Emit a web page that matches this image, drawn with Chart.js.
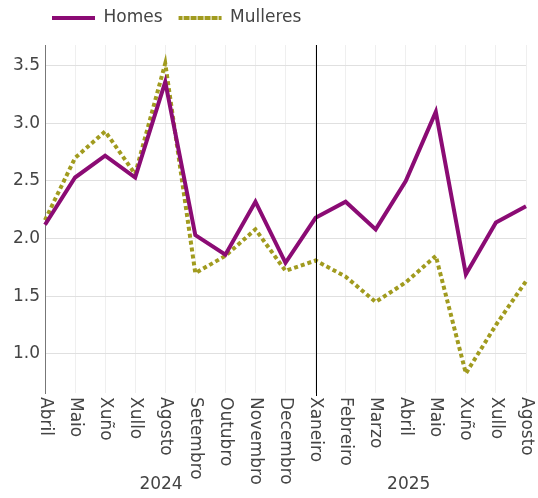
<!DOCTYPE html>
<html><head><meta charset="utf-8">
<script src="https://cdn.jsdelivr.net/npm/chart.js@4"></script>
<style>html,body{margin:0;padding:0;background:#fff}</style>
</head><body>
<canvas id="c" width="538" height="498"></canvas>
<script>
const months = ['Abril','Maio','Xuño','Xullo','Agosto','Setembro','Outubro','Novembro','Decembro','Xaneiro','Febreiro','Marzo','Abril','Maio','Xuño','Xullo','Agosto'];
const years = ['2024','2025'];
const homes = [2.12, 2.53, 2.72, 2.53, 3.36, 2.03, 1.86, 2.32, 1.79, 2.18, 2.32, 2.08, 2.50, 3.10, 1.69, 2.14, 2.28];
const mulleres = [2.16, 2.70, 2.93, 2.56, 3.52, 1.70, 1.85, 2.08, 1.72, 1.81, 1.67, 1.45, 1.62, 1.85, 0.83, 1.25, 1.63];
const yTicks = [1.0, 1.5, 2.0, 2.5, 3.0, 3.5];

const FONT = '"DejaVu Sans", Verdana, sans-serif';
const TXT = '#444';

const overlay = {
  id: 'overlay',
  afterLayout(chart) {
    const lg = chart.legend;
    if (lg) { lg.left = 36; lg.top = -6.5; }
  },
  afterDatasetsDraw(chart) {
    const {ctx, chartArea, scales} = chart;
    const x = Math.round(scales.x.getPixelForValue(9)) + 0.5;
    ctx.save();
    ctx.strokeStyle = '#000';
    ctx.lineWidth = 1;
    ctx.beginPath();
    ctx.moveTo(x, chartArea.top);
    ctx.lineTo(x, chartArea.bottom + 3);
    ctx.stroke();
    ctx.restore();
  },
  afterDraw(chart) {
    const {ctx, chartArea, scales} = chart;
    ctx.save();
    ctx.font = '17px ' + FONT;
    ctx.fillStyle = TXT;
    months.forEach((m, i) => {
      const x = scales.x.getPixelForValue(i);
      ctx.save();
      ctx.translate(x, chartArea.bottom + 4);
      ctx.rotate(Math.PI / 2);
      ctx.textAlign = 'left';
      ctx.textBaseline = 'middle';
      ctx.fillText(m, 0, 0);
      ctx.restore();
    });
    ctx.textAlign = 'center';
    ctx.textBaseline = 'middle';
    const yearPos = [3.86, 12.1];
    years.forEach((y, i) => {
      ctx.fillText(y, scales.x.getPixelForValue(yearPos[i]), 485);
    });
    ctx.restore();
  }
};

new Chart(document.getElementById('c'), {
  type: 'line',
  data: {
    labels: months,
    datasets: [
      { label: 'Homes', data: homes, borderColor: '#8b0b74', backgroundColor: '#8b0b74',
        borderWidth: 4, pointRadius: 0, tension: 0, fill: false },
      { label: 'Mulleres', data: mulleres, borderColor: '#a19b1f', backgroundColor: '#a19b1f',
        borderWidth: 4, borderDash: [4, 3], pointRadius: 0, tension: 0, fill: false }
    ]
  },
  options: {
    responsive: false,
    animation: false,
    devicePixelRatio: 1,
    layout: { padding: { top: 2, right: 12, bottom: 0, left: 0 } },
    plugins: {
      tooltip: { enabled: false },
      legend: {
        position: 'top',
        align: 'start',
        labels: {
          boxWidth: 43,
          boxHeight: 0,
          padding: 16,
          color: TXT,
          font: { family: FONT, size: 17 }
        }
      }
    },
    scales: {
      x: {
        type: 'category',
        offset: false,
        ticks: { display: false },
        grid: { color: '#efefef', drawTicks: false },
        border: { display: false },
        afterFit(s) { s.height = 105; }
      },
      y: {
        min: 0.66, max: 3.68,
        afterBuildTicks(s) { s.ticks = yTicks.map(v => ({ value: v })); },
        afterFit(s) { s.width = 45; },
        ticks: { color: TXT, padding: 5, font: { family: FONT, size: 17 },
                 callback: v => Number(v).toFixed(1) },
        grid: { color: '#e0e0e0', drawTicks: false },
        border: { display: true, color: '#777', width: 1 }
      }
    }
  },
  plugins: [overlay]
});
</script>
</body></html>
